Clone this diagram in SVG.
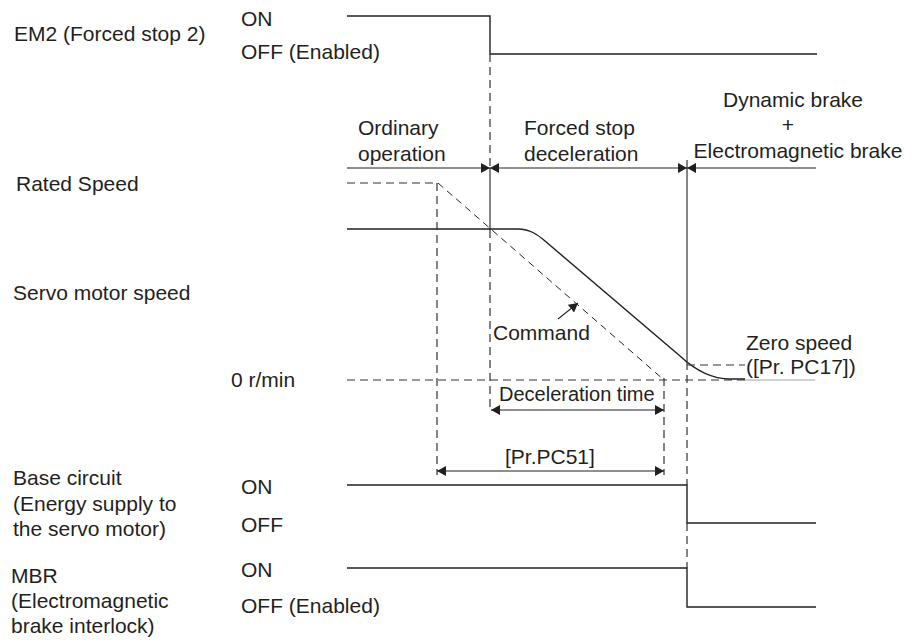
<svg xmlns="http://www.w3.org/2000/svg" width="917" height="640" viewBox="0 0 917 640">
<style>
text{font-family:"Liberation Sans",Arial,sans-serif;font-size:21px;fill:#231f20}
.sig{fill:none;stroke:#231f20;stroke-width:1.4}
.thin{fill:none;stroke:#231f20;stroke-width:1.1}
.dash{fill:none;stroke:#333;stroke-width:1.2;stroke-dasharray:8 5}
.dash2{fill:none;stroke:#231f20;stroke-width:1;stroke-dasharray:7 5}
.dim{fill:none;stroke:#231f20;stroke-width:1.1;marker-end:url(#ah)}
.dimb{fill:none;stroke:#231f20;stroke-width:1.1;marker-start:url(#ah);marker-end:url(#ah)}
.dims{fill:none;stroke:#231f20;stroke-width:1.1;marker-start:url(#ah)}
</style>
<defs>
<marker id="ah" viewBox="0 0 10 10" refX="10" refY="5" markerWidth="9" markerHeight="10" markerUnits="userSpaceOnUse" orient="auto-start-reverse" preserveAspectRatio="none">
<path d="M0,0 L10,5 L0,10 z" fill="#231f20"/>
</marker>
</defs>

<g id="labels">
<text x="14" y="41">EM2 (Forced stop 2)</text>
<text x="241" y="26">ON</text>
<text x="241" y="59">OFF (Enabled)</text>
<text x="358" y="135">Ordinary</text>
<text x="358" y="161">operation</text>
<text x="524" y="135">Forced stop</text>
<text x="524" y="161">deceleration</text>
<text x="793" y="107" text-anchor="middle">Dynamic brake</text>
<text x="788" y="132" text-anchor="middle">+</text>
<text x="798" y="158" text-anchor="middle">Electromagnetic brake</text>
<text x="16" y="191">Rated Speed</text>
<text x="13" y="300">Servo motor speed</text>
<text x="493" y="340">Command</text>
<text x="746" y="350">Zero speed</text>
<text x="746" y="374">([Pr. PC17])</text>
<text x="231" y="387">0 r/min</text>
<text x="499" y="401" style="font-size:20px">Deceleration time</text>
<text x="505" y="464">[Pr.PC51]</text>
<text x="13" y="485">Base circuit</text>
<text x="13" y="511">(Energy supply to</text>
<text x="13" y="536">the servo motor)</text>
<text x="241" y="494">ON</text>
<text x="241" y="532">OFF</text>
<text x="11" y="583">MBR</text>
<text x="11" y="608">(Electromagnetic</text>
<text x="11" y="633">brake interlock)</text>
<text x="241" y="577">ON</text>
<text x="241" y="613">OFF (Enabled)</text>
</g>

<g id="em2-signal">
<path class="sig" d="M347,16 H490 V54 H817"/>
</g>

<g id="speed">
<path class="dash" d="M347,183 H438"/>
<path class="dash2" d="M438,183 L664,380"/>
<path class="sig" d="M347,229 H518 C530,229 538,235 545,241 L680,356 C695,370 712,379 730,379 H745"/>
<path class="dash" d="M347,380 H745"/>
<path fill="none" stroke="#999" stroke-width="0.9" d="M745,380 H815"/>
<path class="dash" d="M687,365 H745"/>
</g>

<g id="base-circuit">
<path class="sig" d="M347,485 H687 V523 H816"/>
</g>

<g id="mbr">
<path class="sig" d="M347,568 H687 V607 H816"/>
</g>

<g id="connectors">
<path class="dash" d="M490,54 V168"/>
<path class="thin" d="M490,168 V230"/>
<path class="dash" d="M490,230 V410"/>
<path class="thin" d="M687,160 V362"/>
<path class="dash" d="M687,362 V485"/>
<path class="dash" d="M687,523 V568"/>
<path class="dash" d="M437,183 V475"/>
<path class="dash" d="M664,378 V475"/>
<path class="dim" d="M347,168 H490"/>
<path class="dimb" d="M490,168 H687"/>
<path class="dims" d="M687,168 H816"/>
<path class="dimb" d="M491,410 H664"/>
<path class="dimb" d="M437,471 H664"/>
<path class="dim" d="M558,319 L578,303"/>
</g>
</svg>
